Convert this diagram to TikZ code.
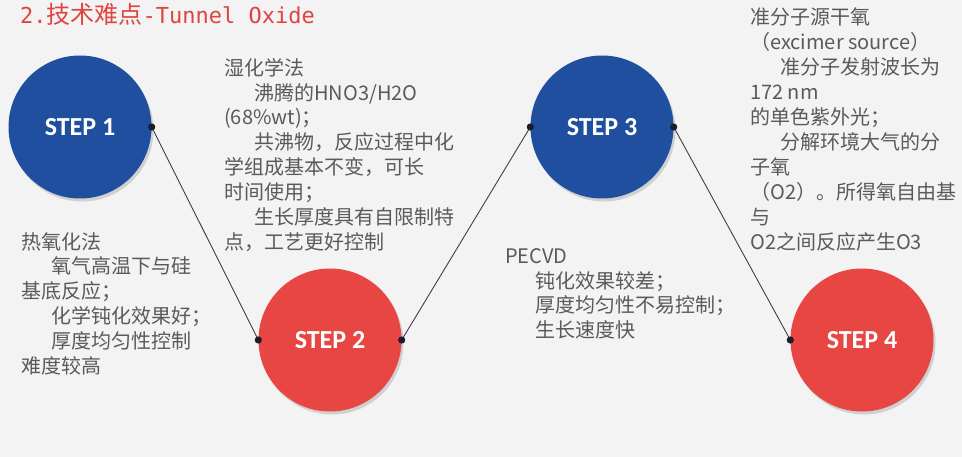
\documentclass[tikz,border=0pt]{standalone}
\usepackage{fontspec}
\setmainfont{Noto Sans CJK SC}
\newfontfamily\cjk{Noto Sans CJK SC}
\newfontfamily\monof{DejaVu Sans Mono}
\newfontfamily\stepf{Carlito}
\usetikzlibrary{shadows}
\definecolor{bg}{HTML}{F3F3F3}
\definecolor{stepblue}{HTML}{1F4F9E}
\definecolor{stepred}{HTML}{E84642}
\definecolor{titlered}{HTML}{E0443E}
\definecolor{txtgray}{HTML}{5A5A5A}
\definecolor{dotcol}{HTML}{1C1C2A}
\tikzset{
  stepcircle/.style={circle, inner sep=0pt, minimum size=143pt, text=white,
    font=\stepf\bfseries\fontsize{26}{30}\selectfont,
    drop shadow={shadow xshift=2pt, shadow yshift=-3pt, opacity=0.3}},
  bluestep/.style={stepcircle, fill=stepblue},
  redstep/.style={stepcircle, fill=stepred},
  desc/.style={anchor=north west, inner sep=0pt, align=left, text=txtgray,
    font=\cjk\fontsize{20}{24.9}\selectfont},
  link/.style={draw=dotcol!85, line width=0.9pt},
  dotmark/.style={fill=dotcol}
}
\newcommand{\ind}{\hspace*{30pt}}
\begin{document}
\begin{tikzpicture}[x=1pt,y=-1pt]
\fill[bg] (0,0) rectangle (962,457);
\useasboundingbox (0,0) rectangle (962,457);

% title
\node[anchor=base west, inner sep=0pt, text=titlered] (title) at (20,24)
  {\monof\fontsize{22}{24}\selectfont 2.{\cjk\fontsize{24}{28}\selectfont 技术难点}-Tunnel Oxide};

% circles
\node[bluestep] (s1) at (80,127) {STEP 1};
\node[redstep]  (s2) at (330,340) {STEP 2};
\node[bluestep] (s3) at (602,127) {STEP 3};
\node[redstep]  (s4) at (862,340) {STEP 4};

% connectors
\draw[link] (s1.east) -- (s2.west);
\draw[link] (s2.east) -- (s3.west);
\draw[link] (s3.east) -- (s4.west);
\foreach \p in {s1.east,s2.west,s2.east,s3.west,s3.east,s4.west}
  \fill[dotmark] (\p) circle (3.6);

% descriptions
\node[desc] (tA) at (224,58) {湿化学法\\
\ind 沸腾的HNO3/H2O\\
(68\%wt)；\\
\ind 共沸物，反应过程中化\\
学组成基本不变，可长\\
时间使用；\\
\ind 生长厚度具有自限制特\\
点，工艺更好控制};

\node[desc] (tB) at (21,232) {热氧化法\\
\ind 氧气高温下与硅\\
基底反应；\\
\ind 化学钝化效果好；\\
\ind 厚度均匀性控制\\
难度较高};

\node[desc] (tC) at (505,248) {PECVD\\
\ind 钝化效果较差；\\
\ind 厚度均匀性不易控制；\\
\ind 生长速度快};

\node[desc] (tD) at (750,8) {准分子源干氧\\
（excimer source）\\
\ind 准分子发射波长为\\
172 nm\\
的单色紫外光；\\
\ind 分解环境大气的分\\
子氧\\
（O2）。所得氧自由基\\
与\\
O2之间反应产生O3};
\end{tikzpicture}
\end{document}
